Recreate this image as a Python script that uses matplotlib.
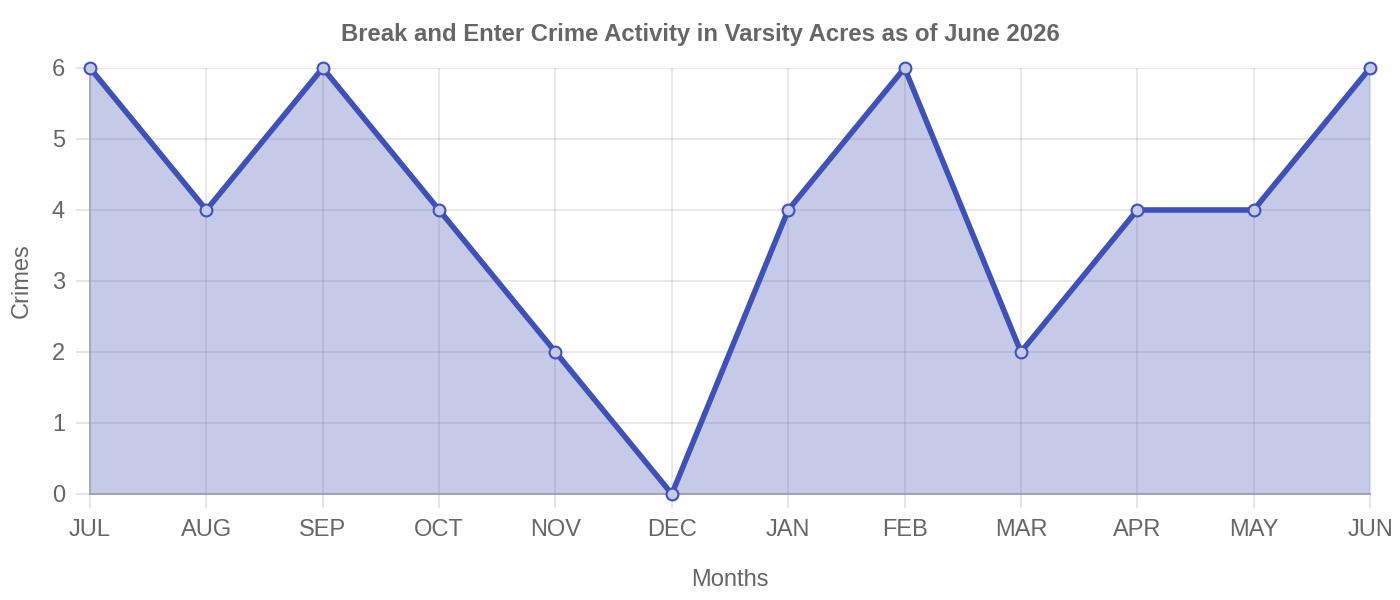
import matplotlib
matplotlib.use('Agg')
import matplotlib.pyplot as plt

months = ['JUL', 'AUG', 'SEP', 'OCT', 'NOV', 'DEC', 'JAN', 'FEB', 'MAR', 'APR', 'MAY', 'JUN']
crimes = [6, 4, 6, 4, 2, 0, 4, 6, 2, 4, 4, 6]
yticks = [0, 1, 2, 3, 4, 5, 6]

plt.rcParams['font.family'] = ['Liberation Sans', 'DejaVu Sans']
grey = '#666666'
blue = '#3f51b5'

fig = plt.figure(figsize=(14, 6), dpi=100)
ax = fig.add_axes([0.0643, 0.1767, 0.9143, 0.71])

x = list(range(len(months)))
ax.fill_between(x, crimes, 0, color=blue, alpha=0.3, linewidth=0, zorder=2)
ax.plot(x, crimes, color=blue, linewidth=4, zorder=3, solid_joinstyle='miter')
ax.plot(x, crimes, 'o', markersize=8.5, markerfacecolor='#c5cae9',
        markeredgecolor=blue, markeredgewidth=1.5, zorder=4, clip_on=False)

ax.set_xlim(0, len(months) - 1)
ax.set_ylim(0, 6)
ax.set_xticks(x)
ax.set_xticklabels(months)
ax.set_yticks(yticks)
ax.grid(True, color='#000000', alpha=0.1, linewidth=1.2, zorder=1)
ax.tick_params(axis='both', colors='#e0e0e0', labelcolor=grey, labelsize=17,
               length=10, width=1.2)
ax.tick_params(axis='x', pad=8)
ax.tick_params(axis='y', pad=8)
for s in ['top', 'right']:
    ax.spines[s].set_visible(False)
for s in ['left', 'bottom']:
    ax.spines[s].set_color('#9a9ab0')
    ax.spines[s].set_linewidth(1.2)
ax.set_axisbelow(True)

ax.set_xlabel('Months', fontsize=17, color=grey, labelpad=20)
ax.set_ylabel('Crimes', fontsize=17, color=grey, labelpad=14)
fig.text(0.5, 0.943, 'Break and Enter Crime Activity in Varsity Acres as of June 2026',
         fontsize=17.2, fontweight='bold', color=grey, ha='center', va='center')

fig.savefig('out.png', dpi=100)
